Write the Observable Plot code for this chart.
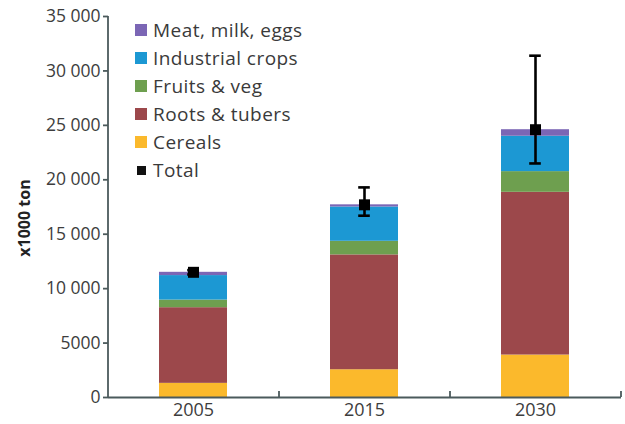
<!DOCTYPE html>
<html>
<head>
<meta charset="utf-8">
<script src="https://cdn.jsdelivr.net/npm/d3@7"></script>
<script src="https://cdn.jsdelivr.net/npm/@observablehq/plot@0.6"></script>
<style>
  html, body { margin: 0; padding: 0; background: #fff; }
  #wrap { position: relative; width: 625px; height: 424px; font-family: "Open Sans", sans-serif; }
  #legend { position: absolute; left: 135px; top: 15.5px; color: #3a3a3a; font-size: 19px; letter-spacing: 0.45px; }
  #legend .row { display: flex; align-items: center; height: 28.1px; white-space: nowrap; }
  #legend .sw { width: 12px; height: 12px; margin-right: 6px; flex: none; }
  #legend .sw.small { width: 9px; height: 9px; margin: 0 7px 0 2px; }
  #ylabel { position: absolute; left: 24px; top: 218px; transform: translate(-50%, -50%) rotate(-90deg);
            font-weight: bold; font-size: 16px; color: #222; white-space: nowrap; }
</style>
</head>
<body>
<div id="wrap"><div id="legend"></div><div id="ylabel">x1000 ton</div></div>
<script>
// Production by food group, thousand tonnes
const years = ["2005", "2015", "2030"];
const groups = ["Cereals", "Roots & tubers", "Fruits & veg", "Industrial crops", "Meat, milk, eggs"];
const colors = ["#fbb92c", "#9c484b", "#6e9f4f", "#1c98d3", "#7b66b5"];

const cereals    = [1300, 2550, 3900];
const roots      = [6950, 10550, 14950];
const fruits     = [700, 1250, 1900];
const industrial = [2250, 3150, 3250];
const meat       = [300, 200, 600];

const totals   = [11500, 17700, 24600];
const totalLow = [11300, 16700, 21500];
const totalHigh = [11700, 19300, 31400];

const yTicks = [0, 5000, 10000, 15000, 20000, 25000, 30000, 35000];

const seriesValues = [cereals, roots, fruits, industrial, meat];
const rows = [];
groups.forEach((g, gi) => years.forEach((y, yi) => rows.push({year: y, group: g, value: seriesValues[gi][yi]})));
const totalRows = years.map((y, i) => ({year: y, total: totals[i], low: totalLow[i], high: totalHigh[i]}));

const fmt = d => d >= 10000 ? d3.format(",")(d).replace(",", " ") : String(d);

const marginLeft = 108, marginRight = 4, width = 625;
const paddingInner = 0.6, paddingOuter = 0.3;
const step = (width - marginLeft - marginRight) / (years.length - paddingInner + 2 * paddingOuter);
const halfStep = step / 2;
const capInset = (step * (1 - paddingInner) - 12) / 2;

const chart = Plot.plot({
  width, height: 424,
  marginTop: 16, marginBottom: 27, marginLeft, marginRight,
  style: {fontFamily: "'Open Sans', sans-serif", fontSize: "17.5px", color: "#3d3d3d", background: "transparent"},
  x: {domain: years, paddingInner, paddingOuter, label: null},
  y: {domain: [0, 35000], label: null},
  color: {domain: groups, range: colors},
  marks: [
    Plot.barY(rows, {x: "year", y: "value", fill: "group", order: groups}),
    // axis lines
    Plot.ruleY([0], {stroke: "#4b5a5c", strokeWidth: 1.8}),
    Plot.ruleX([years[0]], {dx: -halfStep, y1: 0, y2: 35000, stroke: "#4b5a5c", strokeWidth: 1.8}),
    // category separators on the x axis
    Plot.ruleX(years, {dx: halfStep, y1: 0, y2: 550, stroke: "#4b5a5c", strokeWidth: 1.8}),
    Plot.axisY({ticks: yTicks, tickFormat: fmt, tickSize: 5, tickPadding: 3, stroke: "#4b5a5c", strokeWidth: 1.8, fill: "#3d3d3d", label: null}),
    Plot.axisX({tickSize: 0, tickPadding: 6, fill: "#3d3d3d", label: null, fontSize: 18}),
    // total with uncertainty range
    Plot.ruleX(totalRows, {x: "year", y1: "low", y2: "high", stroke: "#000", strokeWidth: 2.6}),
    Plot.tickY(totalRows, {x: "year", y: "low", stroke: "#000", strokeWidth: 2.6, insetLeft: capInset, insetRight: capInset}),
    Plot.tickY(totalRows, {x: "year", y: "high", stroke: "#000", strokeWidth: 2.6, insetLeft: capInset, insetRight: capInset}),
    Plot.dot(totalRows, {x: "year", y: "total", symbol: "square", r: 6.2, fill: "#000", stroke: null})
  ]
});

document.getElementById("wrap").prepend(chart);

// legend, top entry first
const legend = document.getElementById("legend");
const entries = groups.map((g, i) => ({label: g, color: colors[i]})).reverse();
entries.push({label: "Total", color: "#111", small: true});
for (const e of entries) {
  const row = document.createElement("div");
  row.className = "row";
  const sw = document.createElement("span");
  sw.className = "sw" + (e.small ? " small" : "");
  sw.style.background = e.color;
  const t = document.createElement("span");
  t.textContent = e.label;
  row.append(sw, t);
  legend.append(row);
}
</script>
</body>
</html>
